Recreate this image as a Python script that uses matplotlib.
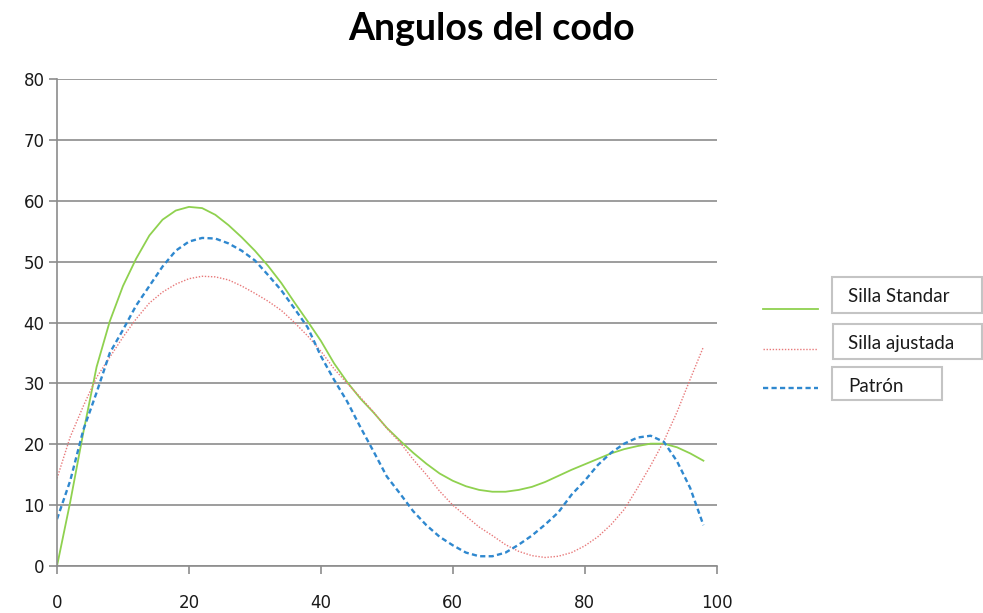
import matplotlib
matplotlib.use("Agg")
import matplotlib.pyplot as plt
from matplotlib.lines import Line2D
from matplotlib.patches import Rectangle

# posiciones (% del ciclo) y angulos del codo (grados)
x = [0, 2, 4, 6, 8, 10, 12, 14, 16, 18, 20, 22, 24, 26, 28, 30, 32, 34, 36, 38,
     40, 42, 44, 46, 48, 50, 52, 54, 56, 58, 60, 62, 64, 66, 68, 70, 72, 74, 76, 78,
     80, 82, 84, 86, 88, 90, 92, 94, 96, 98]

silla_standar = [0, 10.5, 22, 32.7, 40.2, 46, 50.5, 54.3, 56.9, 58.4, 59, 58.8, 57.7, 56, 54, 51.8, 49.3, 46.5, 43.3, 40.2,
                 37, 33.3, 30.2, 27.5, 25.2, 22.7, 20.6, 18.6, 16.8, 15.2, 14, 13.1, 12.5, 12.2, 12.2, 12.5, 13, 13.8, 14.8, 15.8,
                 16.7, 17.6, 18.5, 19.2, 19.7, 20.1, 20.1, 19.5, 18.5, 17.3]

silla_ajustada = [14.4, 21.2, 26.3, 31, 34.3, 37.6, 40.6, 43.2, 45, 46.3, 47.2, 47.6, 47.5, 47, 46, 44.8, 43.5, 42, 40, 37.8,
                  35.3, 32.4, 30, 27.7, 25.3, 22.6, 20.3, 17.5, 15, 12.3, 10, 8.2, 6.4, 5, 3.5, 2.4, 1.7, 1.4, 1.6, 2.2,
                  3.3, 4.8, 6.8, 9.3, 12.8, 16.5, 20.5, 25.3, 30.7, 36]

patron = [7.7, 14, 22.4, 28.5, 35, 38.8, 42.8, 46, 49.2, 51.8, 53.3, 53.9, 53.8, 53, 51.8, 50.2, 47.8, 45.3, 42.3, 39.2,
          34.5, 30.6, 27, 22.8, 18.8, 14.7, 11.9, 9, 6.7, 4.8, 3.4, 2.2, 1.6, 1.6, 2.2, 3.5, 5, 6.8, 8.8, 11.7,
          14, 16.6, 18.6, 20.1, 21.1, 21.4, 20.4, 17.2, 12.8, 6.7]

labels = ["Silla Standar", "Silla ajustada", "Patrón"]

fig = plt.figure(figsize=(9.83, 6.13), dpi=100)
ax = fig.add_axes([0.058, 0.0767, 0.671, 0.7943])

grid_col = "#8c8c8c"
series = [
    (silla_standar, dict(color="#8fd14f", lw=1.3, ls="-")),
    (silla_ajustada, dict(color="#e8797a", lw=1.0, ls=(0, (1, 1.2)))),
    (patron, dict(color="#2f88cf", lw=1.7, ls=(0, (2.2, 1.4)))),
]
for ys, st in series:
    ax.plot(x, ys, **st)

ax.set_xlim(0, 100)
ax.set_ylim(0, 80)
ax.set_xticks(range(0, 101, 20))
ax.set_yticks(range(0, 81, 10))
ax.yaxis.grid(True, color=grid_col, lw=1.2)
ax.set_axisbelow(True)
for s in ["top", "right"]:
    ax.spines[s].set_visible(False)
for s in ["left", "bottom"]:
    ax.spines[s].set_color(grid_col)
    ax.spines[s].set_linewidth(1.2)
ax.tick_params(axis="both", colors=grid_col, width=1.2, length=6, labelcolor="#1a1a1a", labelsize=12)
ax.tick_params(axis="x", pad=14)
ax.tick_params(axis="y", pad=3)

fig.text(0.5, 0.952, "Angulos del codo", ha="center", va="center",
         fontsize=27, fontweight="bold", family="Lato")

# leyenda con cajas de texto
W, H = 983.0, 613.0
line_y = [309, 349, 388]
boxes = [(832, 277, 150, 36), (833, 324, 149, 35), (832, 367, 110, 33)]
text_y = [297, 343, 386]
for (ys, st), lab, ly, (bx, by, bw, bh), ty in zip(series, labels, line_y, boxes, text_y):
    fig.add_artist(Line2D([763 / W, 818 / W], [1 - ly / H, 1 - ly / H], **st))
    fig.add_artist(Rectangle((bx / W, 1 - (by + bh) / H), bw / W, bh / H,
                             fc="white", ec="#c4c4c4", lw=1.5))
    fig.text(848 / W, 1 - ty / H, lab, ha="left", va="center", fontsize=13.5,
             family="Lato", color="#1a1a1a")

fig.savefig("out.png", dpi=100)
